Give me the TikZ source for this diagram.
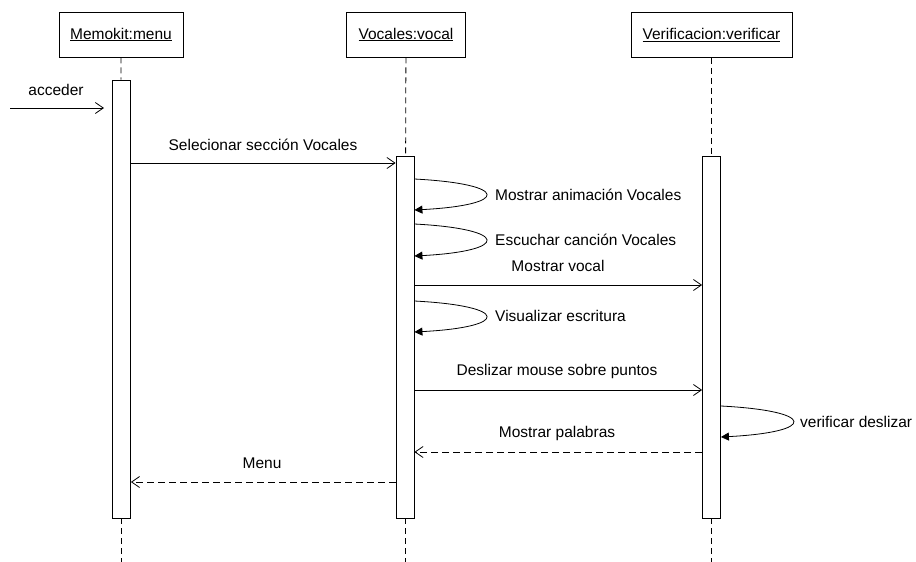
\documentclass[tikz,border=0pt]{standalone}
\usepackage{fontspec}
\setmainfont{Liberation Sans}
\usetikzlibrary{arrows.meta}

\begin{document}
\begin{tikzpicture}[x=1pt, y=-1pt,
    font=\fontsize{15.5}{18}\selectfont,
    object/.style ={rectangle, draw, line width=0.8pt, minimum height=45pt, inner sep=0pt},
    activation/.style ={rectangle, draw, fill=white, line width=0.8pt, minimum width=18pt, minimum height=438pt, inner sep=0pt},
    lifeline/.style ={line width=0.8pt, dash pattern=on 6pt off 4pt},
    call/.style ={line width=0.8pt, -{Straight Barb[length=8pt,width=11pt]}},
    reply/.style ={call, dash pattern=on 7pt off 4pt},
    selfcall/.style ={line width=0.8pt, -{Triangle[length=8pt,width=8pt]}},
    msg/.style ={inner sep=0pt}]
   \useasboundingbox (0,0) rectangle (916,562);
   % objects
   \node[object, minimum width=124pt] (menu) at (121,34.5) {\underline{Memokit:menu}};
   \node[object, minimum width=119pt] (vocal) at (406,34.5) {\underline{Vocales:vocal}};
   \node[object, minimum width=161pt] (verif) at (711.5,35) {\underline{Verificacion:verificar}};
   % activations
   \node[activation] (menuAct) at (121.5,299) {};
   \node[activation, minimum height=362pt] (vocalAct) at (405,337) {};
   \node[activation, minimum height=362pt] (verifAct) at (711.5,337) {};
   \coordinate (menuEnd) at (121.5,562);
   \coordinate (vocalEnd) at (405,562);
   \coordinate (verifEnd) at (711.5,562);
   % lifelines
   \draw[lifeline] (menu) -- (menuAct);
   \draw[lifeline] (vocal) -- (vocalAct);
   \draw[lifeline] (verif) -- (verifAct);
   \draw[lifeline] (menuAct) -- (menuEnd);
   \draw[lifeline] (vocalAct) -- (vocalEnd);
   \draw[lifeline] (verifAct) -- (verifEnd);
   % messages
   \coordinate (accStart) at (10,108);
   \coordinate (accTip) at (104,108);
   \draw[call] (accStart) -- (accTip);
   \node[msg] (lblAcc) at (56,90) {acceder};

   \draw[call] (menuAct.east |- 0,163) -- (vocalAct.west |- 0,163);
   \node[msg] (lblSel) at (263,145) {Selecionar sección Vocales};

   \draw[selfcall] (vocalAct.east |- 0,179) .. controls (510,184) and (510,205) .. (vocalAct.east |- 0,210);
   \node[msg, anchor=west] (lblAnim) at (495,195) {Mostrar animación Vocales};

   \draw[selfcall] (vocalAct.east |- 0,224) .. controls (510,229) and (510,251) .. (vocalAct.east |- 0,256);
   \node[msg, anchor=west] (lblCancion) at (495,240) {Escuchar canción Vocales};

   \draw[call] (vocalAct.east |- 0,285) -- (verifAct.west |- 0,285);
   \node[msg] (lblVocal) at (558,266) {Mostrar vocal};

   \draw[selfcall] (vocalAct.east |- 0,301) .. controls (510,306) and (510,327) .. (vocalAct.east |- 0,332);
   \node[msg, anchor=west] (lblEscr) at (495,316) {Visualizar escritura};

   \draw[call] (vocalAct.east |- 0,390) -- (verifAct.west |- 0,390);
   \node[msg] (lblDesl) at (557,371) {Deslizar mouse sobre puntos};

   \draw[selfcall] (verifAct.east |- 0,406) .. controls (817,411) and (817,432) .. (verifAct.east |- 0,437);
   \node[msg, anchor=west] (lblVerif) at (800,422) {verificar deslizar};

   \draw[reply] (verifAct.west |- 0,452) -- (vocalAct.east |- 0,452);
   \node[msg] (lblPal) at (557,433) {Mostrar palabras};

   \draw[reply] (vocalAct.west |- 0,482) -- (menuAct.east |- 0,482);
   \node[msg] (lblMenu) at (262,463) {Menu};
 \end{tikzpicture}
\end{document}
